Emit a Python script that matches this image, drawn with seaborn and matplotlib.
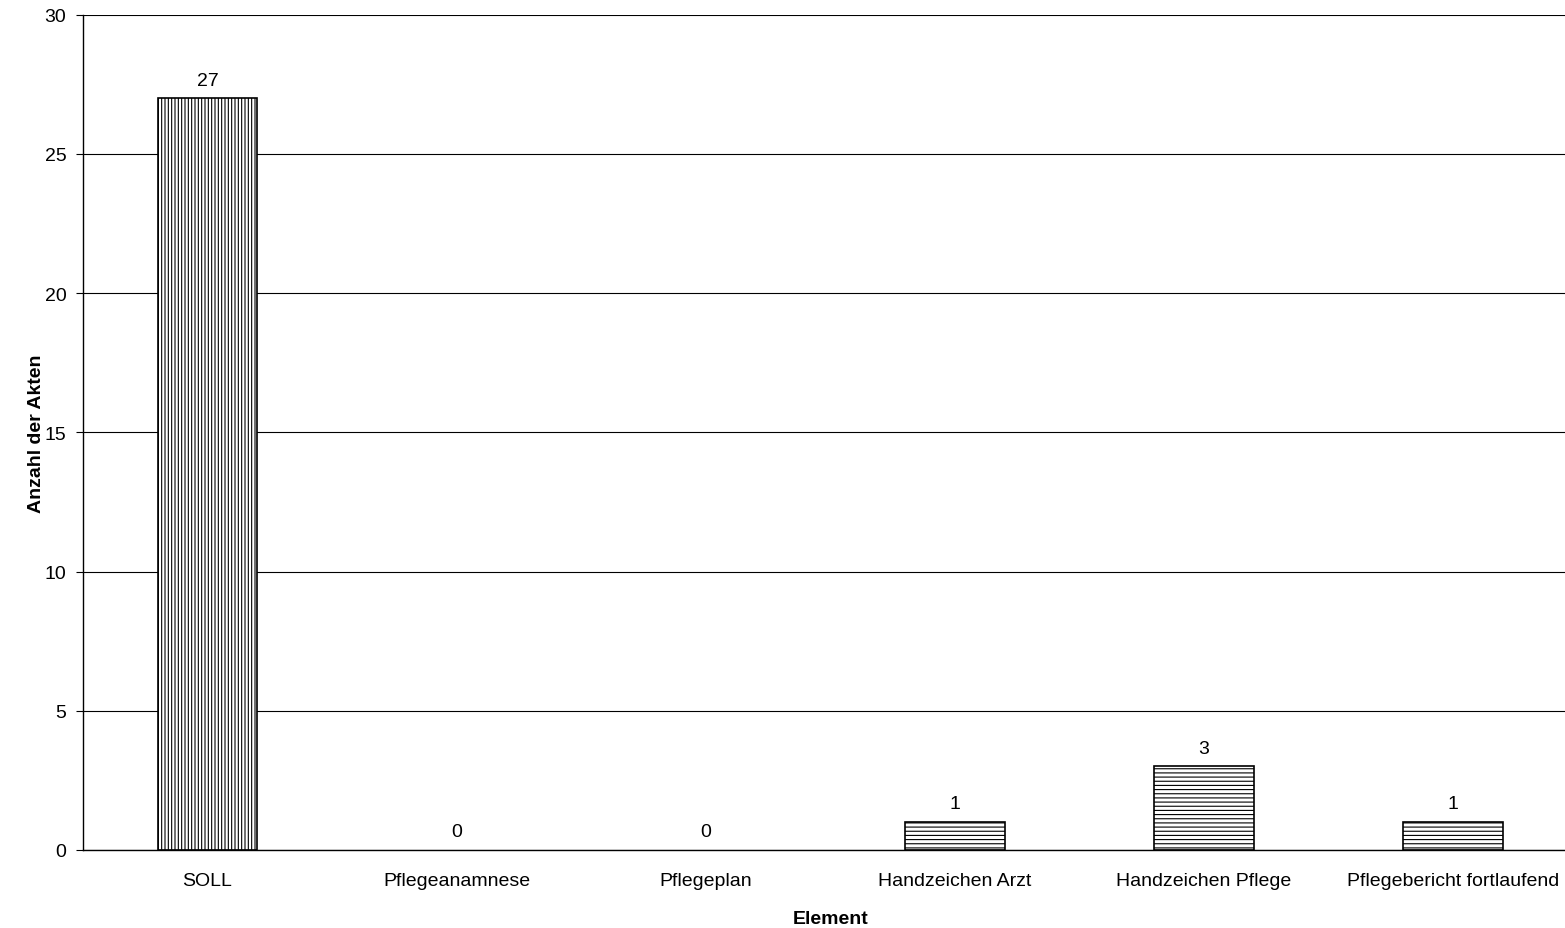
import pandas as pd
import numpy as np
import matplotlib
matplotlib.use("Agg")
import matplotlib.pyplot as plt
import seaborn as sns

# ==========================
# DATA
# ==========================

elements = ["SOLL", "Pflegeanamnese", "Pflegeplan", "Handzeichen Arzt",
            "Handzeichen Pflege", "Pflegebericht fortlaufend"]
counts = [27, 0, 0, 1, 3, 1]
hatches = ["|||||", "", "", "----", "----", "----"]

df = pd.DataFrame({"Element": elements, "Anzahl": counts})

# ==========================
# PLOT
# ==========================

sns.set_style("white")
plt.rcParams["font.family"] = ["Liberation Sans", "DejaVu Sans"]
plt.rcParams["hatch.linewidth"] = 0.8
plt.rcParams["text.color"] = "black"
plt.rcParams["axes.labelcolor"] = "black"
plt.rcParams["xtick.color"] = "black"
plt.rcParams["ytick.color"] = "black"

fig = plt.figure(figsize=(15.65, 9.29), dpi=100)
ax = fig.add_axes([0.053, 0.084, 0.955, 0.899])

sns.barplot(data=df, x="Element", y="Anzahl", color="white",
            edgecolor="black", linewidth=1.2, width=0.4, ax=ax)

for patch, h, v in zip(ax.patches, hatches, counts):
    patch.set_hatch(h)
    if v == 0:
        patch.set_linewidth(0)

for i, v in enumerate(counts):
    ax.text(i, v + 0.35, str(v), ha="center", va="bottom", fontsize=14, color="black")

ax.set_ylim(0, 30)
ax.set_xlim(-0.5, len(elements) - 0.5)
ax.set_yticks(range(0, 31, 5))
ax.yaxis.grid(True, color="black", linewidth=0.8)
ax.set_axisbelow(True)

# ticks between categories
ax.set_xticks(np.arange(-0.5, len(elements), 1), minor=True)
ax.tick_params(axis="x", which="major", length=0, labelsize=14, pad=16)
ax.tick_params(axis="x", which="minor", length=5, color="black", width=0.8)
ax.tick_params(axis="y", length=5, color="black", width=0.8, labelsize=14,
               left=True, pad=7)

for s in ["top", "right"]:
    ax.spines[s].set_visible(False)
for s in ["left", "bottom"]:
    ax.spines[s].set_color("black")
    ax.spines[s].set_linewidth(1.0)

ax.set_xlabel("Element", fontsize=14, fontweight="bold", labelpad=15)
ax.set_ylabel("Anzahl der Akten", fontsize=14, fontweight="bold", labelpad=0)

fig.savefig("out.png", dpi=100)
